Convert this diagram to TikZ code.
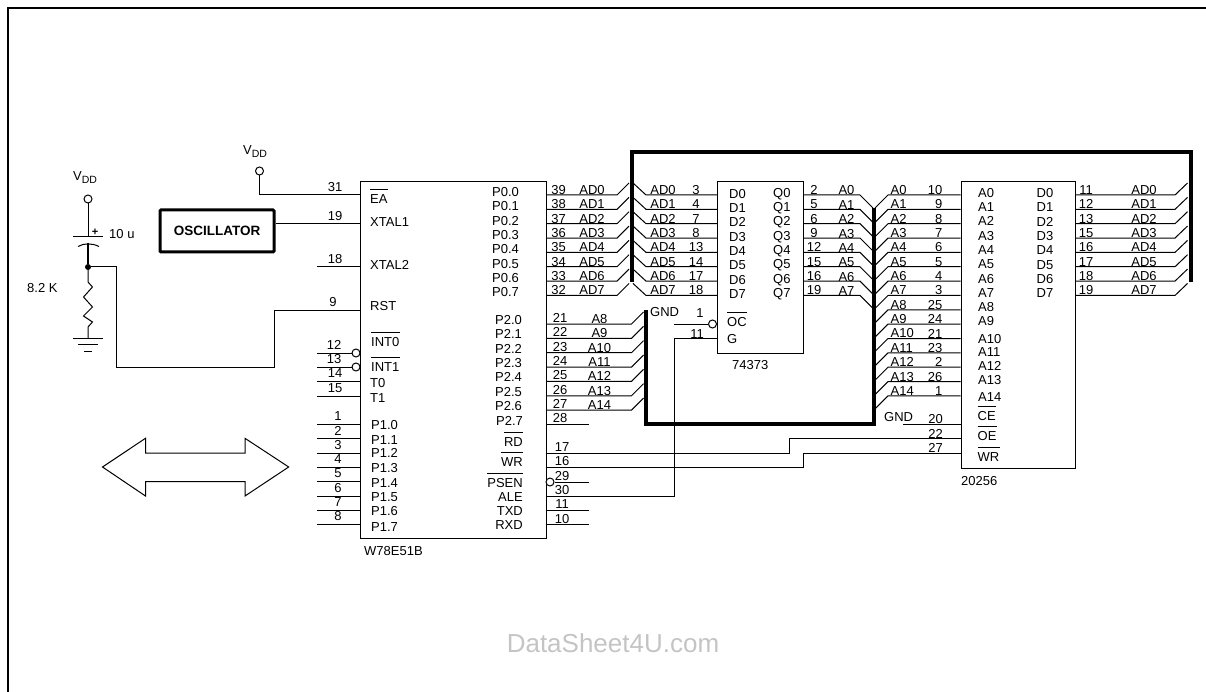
\documentclass[tikz,border=0pt]{standalone}
\usepackage{fontspec}
\setmainfont{Liberation Sans}
\usepackage{tikz}
\newcommand{\sig}{\fontsize{13}{14}\selectfont}
\newcommand{\vdd}{V\raisebox{-3pt}{\fontsize{10.5}{11}\selectfont DD}}
\tikzset{
        wire/.style={line width=1pt},
        bus/.style={line width=4pt},
        chipbox/.style={draw,line width=1pt,inner sep=0pt,anchor=north west},
        pinname/.style={font=\sig,inner sep=0pt,anchor=west},
        pinnum/.style={font=\sig,inner sep=0pt},
        bubble/.style={circle,draw,fill=white,line width=1pt,inner sep=0pt,minimum size=8pt},
        blob/.style={circle,fill=black,inner sep=0pt,minimum size=6pt},
}
\begin{document}
\begin{tikzpicture}[x=1pt,y=-1pt]
        \useasboundingbox (0,0) rectangle (1206,692);
        \draw[line width=2pt] (1206,8) -- (7.5,8) -- (7.5,692);
        % chips
        \node[chipbox,minimum width=185.5pt,minimum height=357pt] (mcu) at (360,181) {};
        \node[chipbox,minimum width=86pt,minimum height=172pt] (latch) at (717,181) {};
        \node[chipbox,minimum width=114.5pt,minimum height=287pt] (mem) at (960.5,181) {};
        \node[pinname] (mculabel) at (364,551.5) {W78E51B};
        \node[pinname] (latchlabel) at (732,365) {74373};
        \node[pinname] (memlabel) at (961,481) {20256};
        \node[draw,line width=3pt,rounded corners=1pt,inner sep=0pt,minimum width=114pt,minimum height=42pt,
                font=\fontsize{13.5}{14}\selectfont\bfseries] (osc) at (217,231) {OSCILLATOR};
        % buses
        \coordinate (busa) at (631.5,282);
        \coordinate (busb) at (631.5,152.5);
        \coordinate (busc) at (1190.5,152.5);
        \coordinate (busd) at (1190.5,282);
        \coordinate (buse) at (646,310);
        \coordinate (busf) at (646,424);
        \coordinate (busg) at (874,424);
        \coordinate (bush) at (874,208);
        \draw[bus] (busa) -- (busb) -- (busc) -- (busd);
        \draw[bus] (buse) -- (busf) -- (busg) -- (bush);
        % mcu left side
        \foreach \n/\x/\y/\txt in {ea/370/199/EA,xtala/370/222/XTAL1,xtalb/370/265/XTAL2,rst/370/306/RST,
                inta/371/342.5/INT0,intb/371/366.7/INT1,tzero/370/382.7/T0,tone/370/398/T1}
        \node[pinname] (\n) at (\x,\y) {\txt};
        \foreach \y [count=\i from 0] in {425,440,453,468,483,497,511.5,527}
        \node[pinname] (pone\i) at (371,\y) {P1.\i};
        \foreach \num/\x/\y in {31/335/195,19/335/224,18/335/267,9/333/310,12/334/353,13/334/367,14/335/381,15/335/396,
                1/338/424,2/338/438.5,3/338/453,4/338/467,5/338/481.5,6/338/496,7/338/510,8/338/524.5}
        \node[pinnum] (mcunum\num) at (\x,\y-8) {\num};
        \foreach \num/\y in {18/267,14/381,15/396,1/424,2/438.5,3/453,4/467,5/481.5,6/496,7/510,8/524.5}{
        \coordinate (stub\num) at (317,\y);
        \draw[wire] (stub\num) -- (stub\num -| mcu.west);
        }
        \node[bubble] (bubblea) at (356,353) {};
        \node[bubble] (bubbleb) at (356,367) {};
        \coordinate (stub12) at (317,353);
        \coordinate (stub13) at (317,367);
        \draw[wire] (stub12) -- (bubblea);
        \draw[wire] (stub13) -- (bubbleb);
        % supply and reset
        \node[bubble] (vddea) at (259.5,171) {};
        \node[pinnum] (vddealabel) at (255,152) {\vdd};
        \coordinate (eapin) at (360,195);
        \draw[wire] (vddea) |- (eapin);
        \coordinate (xtalpin) at (360,224);
        \draw[wire] (osc.east |- xtalpin) -- (xtalpin);
        \node[bubble] (vddrst) at (88,199) {};
        \node[pinnum] (vddrstlabel) at (85,178) {\vdd};
        \node[blob] (rstdot) at (88,267) {};
        \coordinate (plate) at (88,237);
        \coordinate (curve) at (88,243.5);
        \draw[wire] (vddrst) -- (plate);
        \draw[wire] (73,237) -- (103,237);
        \draw[wire] (78,246.5) .. controls (84,243) and (92,243) .. (99,246.5);
        \draw[line width=2pt] (curve) -- (rstdot);
        \node[pinnum,font=\fontsize{11}{12}\selectfont\bfseries] (plus) at (95,232) {+};
        \node[pinname] (caplabel) at (109,234) {10 u};
        \node[pinname] (reslabel) at (27,288) {8.2 K};
        \coordinate (gnd) at (88,338);
        \draw[wire] (rstdot) -- (88,282) -- (92.5,287) -- (83.5,297) -- (92.5,307) -- (83.5,316) -- (92.5,322) -- (88,327) -- (gnd);
        \draw[wire] (73,338) -- (103,338);
        \draw[wire] (78,344.5) -- (98,344.5);
        \draw[wire] (84,351) -- (92,351);
        \coordinate (rstpin) at (360,310);
        \draw[wire] (rstdot) -| (116.5,367) -| (274,310) -- (rstpin);
        % port 0 to latch
        \foreach \num/\lnum [count=\i from 0] in {39/3,38/4,37/7,36/8,35/13,34/14,33/17,32/18}{
        \pgfmathsetmacro\y{195+14.35*\i}
        \coordinate (kinka\i) at (617,\y);
        \coordinate (kinkb\i) at (646,\y);
        \draw[wire] (kinka\i -| mcu.east) -- (kinka\i) -- ++(12,-12);
        \draw[wire] (kinkb\i -| latch.west) -- (kinkb\i) -- ++(-13,-12);
        \node[pinname] (pzero\i) at (492,\y-3) {P0.\i};
        \node[pinnum] (numa\i) at (558.5,\y-5) {\num};
        \node[pinnum] (ada\i) at (592,\y-5) {AD\i};
        \node[pinnum] (adb\i) at (663,\y-5) {AD\i};
        \node[pinnum] (numb\i) at (696,\y-5) {\lnum};
        \node[pinname] (dlatch\i) at (729,\y-1.3) {D\i};
        \node[pinname] (qlatch\i) at (773,\y-1.3) {Q\i};
        }
        % latch to address bus
        \foreach \num [count=\i from 0] in {2,5,6,9,12,15,16,19}{
        \pgfmathsetmacro\y{195+14.35*\i}
        \coordinate (kinkc\i) at (860,\y);
        \draw[wire] (kinkc\i -| latch.east) -- (kinkc\i) -- ++(13,13);
        \node[pinnum] (numc\i) at (814,\y-5) {\num};
        \node[pinnum] (ala\i) at (846.5,\y-4.5) {A\i};
        }
        % port 2
        \foreach \num/\addr [count=\i from 0] in {21/8,22/9,23/10,24/11,25/12,26/13,27/14}{
        \pgfmathsetmacro\y{324+14.35*\i}
        \coordinate (kinkd\i) at (631.5,\y);
        \draw[wire] (kinkd\i -| mcu.east) -- (kinkd\i) -- ++(12,-12);
        \node[pinname] (ptwo\i) at (495,\y-4) {P2.\i};
        \node[pinnum] (numd\i) at (560,\y-6) {\num};
        \node[pinnum] (alb\i) at (599.5,\y-5) {A\addr};
        }
        \node[pinname] (ptwo7) at (496,421) {P2.7};
        \node[pinnum] (num28) at (560,418.5) {28};
        \coordinate (stub28) at (589,424.3);
        \draw[wire] (stub28 -| mcu.east) -- (stub28);
        % mcu lower right
        \foreach \n/\y/\txt in {rd/442/RD,wr/462.5/WR,psen/483/PSEN,ale/497/ALE,txd/511/TXD,rxd/525/RXD}
        \node[pinnum,anchor=east] (\n) at (523,\y) {\txt};
        \foreach \num/\y in {17/447,16/461,29/476,30/490,11/504,10/519.5}
        \node[pinnum] (mcunum\num) at (562,\y) {\num};
        \node[bubble] (bubblec) at (550,482) {};
        \coordinate (stub29) at (589,482);
        \draw[wire] (bubblec) -- (stub29);
        \foreach \num/\y in {11/510,10/524.7}{
        \coordinate (stub\num) at (589,\y);
        \draw[wire] (stub\num -| mcu.east) -- (stub\num);
        }
        \coordinate (oepin) at (960.5,438.7);
        \coordinate (wrpin) at (960.5,453);
        \draw[wire] (546,453) -| (789,438.7) -- (oepin);
        \draw[wire] (546,467.3) -| (803,453) -- (wrpin);
        % latch control
        \node[pinname] (latchgnd) at (650,312) {GND};
        \node[pinnum] (latchnuma) at (700,313) {1};
        \node[pinnum] (latchnumb) at (697,334) {11};
        \node[pinname] (oc) at (727,322) {OC};
        \node[pinname] (g) at (727,339) {G};
        \node[bubble] (bubbled) at (712.5,324) {};
        \coordinate (ocstub) at (674,324);
        \coordinate (gpin) at (717,338);
        \draw[wire] (ocstub) -- (bubbled);
        \draw[wire] (546,496) -| (gpin -| ocstub) -- (gpin);
        % memory
        \foreach \num/\y [count=\i from 0] in {10/193,9/207,8/221,7/236,6/250,5/264,4/279,3/293,25/307,24/321,21/338.7,23/352,2/365.7,26/380,1/396.7}{
        \pgfmathsetmacro\w{195+14.35*\i}
        \coordinate (kinke\i) at (888,\w);
        \draw[wire] (kinke\i -| mem.west) -- (kinke\i) -- ++(-13,13);
        \node[pinname] (alc\i) at (890.5,\w-5) {A\i};
        \node[pinnum,anchor=east] (nume\i) at (942.5,\w-5) {\num};
        \node[pinname] (amem\i) at (978,\y) {A\i};
        }
        \foreach \n/\y/\txt in {ce/416.5/CE,oe/436/OE,wrm/457/WR}
        \node[pinname] (\n) at (977.5,\y) {\txt};
        \foreach \num/\y in {20/419,22/434,27/448}
        \node[pinnum,anchor=east] (memnum\num) at (943,\y) {\num};
        \node[pinname] (memgnd) at (884,417.5) {GND};
        \coordinate (gndstub) at (903,424);
        \draw[wire] (gndstub) -- (gndstub -| mem.west);
        \foreach \num [count=\i from 0] in {11,12,13,15,16,17,18,19}{
        \pgfmathsetmacro\y{195+14.35*\i}
        \coordinate (kinkf\i) at (1175,\y);
        \draw[wire] (kinkf\i -| mem.east) -- (kinkf\i) -- ++(12.5,-12);
        \node[pinname] (dmem\i) at (1036.5,\y-2) {D\i};
        \node[pinnum] (numf\i) at (1086,\y-5) {\num};
        \node[pinnum] (adc\i) at (1144,\y-5) {AD\i};
        }
        % bars over the active low names
        \foreach \n in {ea,inta,intb,rd,wr,psen,oc,ce,oe,wrm}
        \draw[wire] ([yshift=5pt]\n.north west) -- ([yshift=5pt]\n.north east);
        % port arrow
        \draw[wire,line join=miter] (102.5,467) -- (145.5,438.3) -- (145.5,453) -- (245,453) -- (245,438.3) -- (288.7,467)
                -- (245,496) -- (245,481.5) -- (145.5,481.5) -- (145.5,496) -- cycle;
        \node[pinnum,font=\fontsize{26}{28}\selectfont,text=black!23] (mark) at (613,643.5) {DataSheet4U.com};
\end{tikzpicture}
\end{document}
